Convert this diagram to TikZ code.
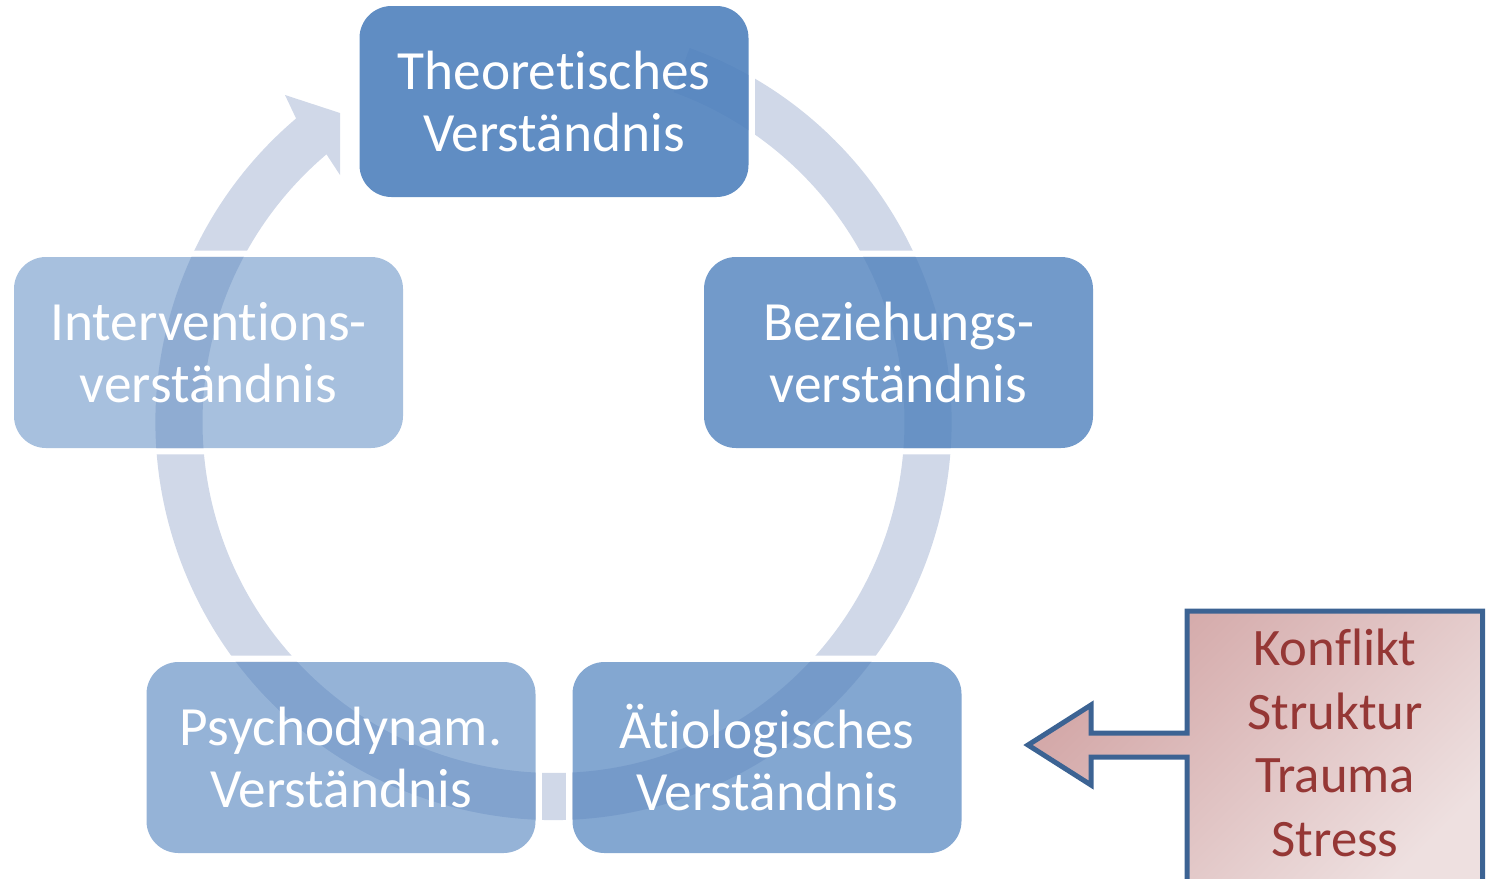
\documentclass[tikz,border=0pt]{standalone}
\usepackage{fontspec}
\setmainfont{Carlito}[Ligatures={NoCommon,NoContextual},Contextuals=NoAlternate]
\usetikzlibrary{calc}
\pgfdeclarelayer{ringlayer}
\pgfdeclarelayer{framelayer}
\pgfsetlayers{ringlayer,framelayer,main}
\definecolor{ringc}{RGB}{208,216,232}
\definecolor{boxc}{RGB}{79,129,189}
\definecolor{calloutborder}{RGB}{60,99,147}
\definecolor{callouttext}{RGB}{149,55,53}
\definecolor{calloutA}{RGB}{210,165,165}
\definecolor{calloutB}{RGB}{238,224,224}
\begin{document}
\begin{tikzpicture}[x=0.75pt,y=-0.75pt,
  stage/.style={fill=boxc, rounded corners=24pt, minimum width=291.75pt,
    minimum height=143.25pt, inner sep=0pt, align=center, text=white,
    text opacity=1, font=\fontsize{41.5}{46.5}\selectfont},
  causes/.style={align=center, text=callouttext, font=\fontsize{39.5}{47.6}\selectfont},
  calloutshape/.style={draw=calloutborder, line width=3.75pt, top color=calloutA,
    bottom color=calloutB, shading angle=45}]
\useasboundingbox (0,0) rectangle (1487,878);
\clip (0,0) rectangle (1487,878);
\coordinate (c) at (553.5,422);

% stages
\node[stage, fill opacity=0.9] (theo) at (554,101.5) {Theoretisches\\Verständnis};
\node[stage, fill opacity=0.8] (bez) at (898.5,352.5) {Beziehungs-\\verständnis};
\node[stage, fill opacity=0.7] (aet) at (767,757.5) {Ätiologisches\\Verständnis};
\node[stage, fill opacity=0.6] (psy) at (341,757.5) {Psychodynam.\\Verständnis};
\node[stage, fill opacity=0.5] (int) at (208.5,352.5) {Interventions-\\verständnis};

% continuous cycle arrow
\begin{pgfonlayer}{ringlayer}
\fill[ringc] ($(c)+(-70:398)$) arc[start angle=-70, end angle=229.7, radius=398]
  -- (285,95) -- (340,113) -- (340,175) -- ($(c)+(229.7:351)$)
  arc[start angle=229.7, end angle=-70, radius=351] -- cycle;
\end{pgfonlayer}

% white gaps around the stages
\begin{pgfonlayer}{framelayer}
\foreach \n in {theo,bez,aet,psy,int}{
  \fill[white, even odd rule] [rounded corners=28.5pt]
    ([shift={(-6,-6)}]\n.north west) rectangle ([shift={(6,6)}]\n.south east)
    [rounded corners=24pt] (\n.north west) rectangle (\n.south east);
}
\end{pgfonlayer}

% callout
\shadedraw[calloutshape] (1187,900) -- (1187,757) -- (1091,757) -- (1091,785)
  -- (1028,745) -- (1091,705) -- (1091,733) -- (1187,733) -- (1187,611)
  -- (1482.5,611) -- (1482.5,900);
\node[causes] (list) at (1335,743) {Konflikt\\Struktur\\Trauma\\Stress};
\end{tikzpicture}
\end{document}
